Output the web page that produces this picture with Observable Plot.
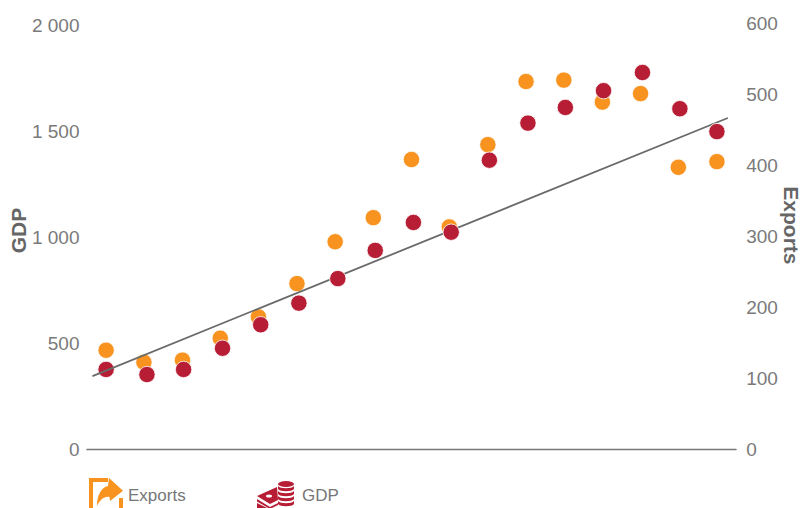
<!DOCTYPE html>
<html>
<head>
<meta charset="utf-8">
<script src="https://cdn.jsdelivr.net/npm/d3@7"></script>
<script src="https://cdn.jsdelivr.net/npm/@observablehq/plot@0.6"></script>
<style>
  html, body { margin: 0; padding: 0; background: #fff; }
  #chart svg { display: block; }
  #legend { position: relative; height: 38px; font: 17px "Liberation Sans", sans-serif; color: #777; }
  #legend svg, #legend span { position: absolute; }
</style>
</head>
<body>
<div id="chart"></div>
<div id="legend">
  <svg style="left:88px;top:7px" width="36" height="31" viewBox="0 0 36 31">
    <path d="M1 31V1H20V5H5V31Z" fill="#f7931e"/>
    <path d="M35 21V31H31V21Z" fill="#f7931e"/>
    <path d="M9 29C9 19 13 10 20 9L21 1 35 13.7 22 24 21.5 20C16 19 12 23 9 29Z" fill="#f7931e"/>
  </svg>
  <span style="left:128px;top:16px">Exports</span>
  <svg style="left:256px;top:10px" width="40" height="28" viewBox="0 0 40 28">
    <path d="M1 16L21 7 22 20 14 24Z" fill="#b71d34"/>
    <path d="M1 19L14 27 22 23V25L14 29 1 21.5Z" fill="#b71d34"/>
    <path d="M1 23L11 28H1Z" fill="#b71d34"/>
    <ellipse cx="13" cy="16" rx="3" ry="1.5" fill="#fff"/>
    <ellipse cx="30" cy="4" rx="8" ry="3" fill="#b71d34"/>
    <path d="M22 6C24 9 36 9 38 6V9C36 12 24 12 22 9Z" fill="#b71d34"/>
    <path d="M22 11C24 14 36 14 38 11V14C36 17 24 17 22 14Z" fill="#b71d34"/>
    <path d="M22 16C24 19 36 19 38 16V19C36 22 24 22 22 19Z" fill="#b71d34"/>
    <path d="M22 21C24 24 36 24 38 21V24C36 27 24 27 22 24Z" fill="#b71d34"/>
  </svg>
  <span style="left:302px;top:16px">GDP</span>
</div>
<script>
// Seventeen observation periods; the GDP series is sampled slightly later in each one.
const exportPeriods = [0, 0.99, 2, 2.99, 3.99, 5, 6, 7, 8, 8.99, 10, 11, 11.99, 13, 14, 14.99, 16];
const gdpPeriods = [0, 1.07, 2.03, 3.05, 4.05, 5.05, 6.07, 7.05, 8.05, 9.04, 10.04, 11.05, 12.03, 13.03, 14.05, 15.03, 16];
const exportsValues = [140, 123, 126, 157, 187, 234, 293, 327, 409, 314, 430, 519, 521, 490, 502, 398, 406];
const gdpValues = [378, 354, 378, 478, 589, 691, 807, 940, 1072, 1026, 1366, 1541, 1615, 1694, 1780, 1609, 1501];
const trendPeriods = [-0.34, 16.27];
const trendValues = [348, 1564];
const baselinePeriods = [-0.5, 16.5];
const gdpTicks = [0, 500, 1000, 1500, 2000];
const exportTicks = [0, 100, 200, 300, 400, 500, 600];

// Exports read against the right axis: one export unit spans this many GDP units.
const exportsToGdp = 3.3475;

const ink = "#7a7a7a";
const titleInk = "#666";
const spaced = d => String(d).replace(/\B(?=(\d{3})+$)/g, " ");
const gdpDot = { x: (d, i) => gdpPeriods[i], y: d => d, r: 8.2, fill: "#b71d34", stroke: "#fff", strokeWidth: 0.8 };

const chart = Plot.plot({
  width: 802,
  height: 470,
  marginLeft: 105.6,
  marginRight: 85.6,
  marginTop: 25.4,
  marginBottom: 21,
  style: { fontFamily: "Liberation Sans, sans-serif", background: "#fff" },
  x: { domain: [0, 16], axis: null },
  y: { domain: [0, 2000], axis: null },
  marks: [
    Plot.axisY({ anchor: "left", ticks: gdpTicks, tickFormat: spaced, tickSize: 0, tickPadding: 26.6, fontSize: 19, color: ink, label: null }),
    Plot.axisY({ anchor: "right", ticks: exportTicks.map(d => d * exportsToGdp), tickFormat: d => Math.round(d / exportsToGdp), tickSize: 0, tickPadding: 29.3, fontSize: 19, color: ink, label: null }),
    Plot.text(["GDP"], { frameAnchor: "left", textAnchor: "middle", y: [1034], dx: -87.1, rotate: -90, fontSize: 21, fontWeight: "bold", fill: titleInk }),
    Plot.text(["Exports"], { frameAnchor: "right", textAnchor: "middle", y: [1058], dx: 74.3, rotate: 90, fontSize: 21, fontWeight: "bold", fill: titleInk }),
    Plot.line(baselinePeriods, { x: d => d, y: () => 0, stroke: "#777", strokeWidth: 1.6 }),
    Plot.dot(exportsValues, { x: (d, i) => exportPeriods[i], y: d => d * exportsToGdp, r: 8.2, fill: "#f7931e", stroke: "#fff", strokeWidth: 0.8 }),
    // The first GDP dot sits beneath the trend line, the rest above it.
    Plot.dot(gdpValues, { ...gdpDot, filter: (d, i) => i === 0 }),
    Plot.line(trendValues, { x: (d, i) => trendPeriods[i], y: d => d, stroke: "#6a6a6a", strokeWidth: 1.8 }),
    Plot.dot(gdpValues, { ...gdpDot, filter: (d, i) => i > 0 })
  ]
});
document.getElementById("chart").append(chart);
</script>
</body>
</html>
